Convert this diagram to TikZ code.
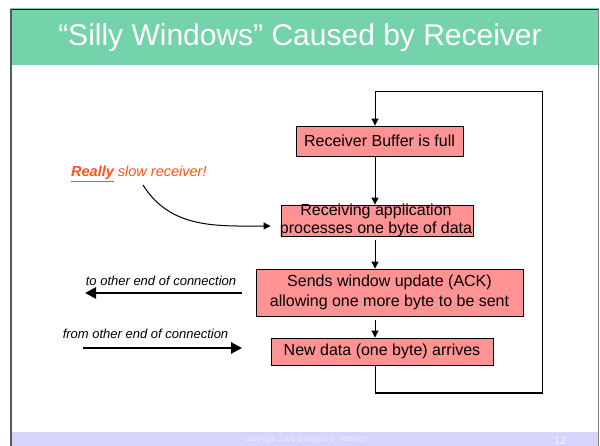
\documentclass[tikz,border=0pt]{standalone}
\usepackage{fontspec}
\setmainfont{Liberation Sans}
\usetikzlibrary{arrows.meta}
\definecolor{band}{HTML}{74D3AB}
\definecolor{boxfill}{HTML}{FF9292}
\definecolor{orng}{HTML}{FF5214}
\definecolor{foot}{HTML}{D4D4FD}
\definecolor{foottxt}{HTML}{ECECFF}
\tikzset{
  flowbox/.style={draw=black, line width=0.9pt, fill=boxfill, inner sep=0pt, align=center, font=\fontsize{16}{20}\selectfont},
  conn/.style={line width=1pt, -{Triangle[length=7pt,width=7pt]}},
  bigarrow/.style={line width=2.6pt, -{Triangle[length=11pt,width=11pt]}},
  note/.style={font=\fontsize{13}{15}\selectfont\itshape, inner sep=0pt}
}
\begin{document}
\begin{tikzpicture}[x=1pt,y=-1pt]
\useasboundingbox (0,0) rectangle (600,446);
% slide frame
\fill[band] (10,8) rectangle (599,65);
\fill[foot] (10,432) rectangle (599,446);
\draw[black, line width=1pt] (11,9.5) -- (598.5,9.5);
\draw[gray!70!black, line width=1.4pt] (11,9) -- (11,446);
\draw[gray, line width=1pt] (598.5,9) -- (598.5,446);
\node[text=white, font=\fontsize{30}{34}\selectfont, inner sep=0pt] (title) at (300,38) {“Silly Windows” Caused by Receiver};
\node[text=foottxt, font=\fontsize{8}{9}\selectfont, inner sep=0pt] (copy) at (305,439.5) {copyright 2005 Douglas S. Reeves};
\node[text=foottxt, font=\fontsize{11}{12}\selectfont\bfseries, inner sep=0pt] (pg) at (560,441) {12};
% boxes
\node[flowbox, minimum width=167pt, minimum height=30pt] (b1) at (379.5,141) {Receiver Buffer is full};
\node[flowbox, minimum width=192pt, minimum height=31pt] (b2) at (377,220.5) {};
\node[align=center, inner sep=0pt, font=\fontsize{16}{18}\selectfont] (b2t) at (376,220) {Receiving application\\processes one byte of data};
\node[flowbox, minimum width=267pt, minimum height=47pt] (b3) at (389.5,292.5) {Sends window update (ACK)\\allowing one more byte to be sent};
\node[flowbox, minimum width=222pt, minimum height=27pt] (b4) at (382,351.5) {New data (one byte) arrives};
% column and loop corners
\coordinate (xc) at (375,0);
\coordinate (lb) at (375,393);
\coordinate (rb) at (542.5,393);
\coordinate (rt) at (542.5,92);
\coordinate (lt) at (375,92);
% vertical flow
\draw[conn] (b1.south -| xc) -- (b2.north -| xc);
\draw[conn, shorten <=4pt] (b2.south -| xc) -- (b3.north -| xc);
\draw[conn, shorten <=4pt] (b3.south -| xc) -- (b4.north -| xc);
\draw[line width=1pt] (b4.south -| xc) -- (lb) -- (rb) -- (rt) -- (lt);
\draw[conn] (lt) -- (b1.north -| xc);
% slow receiver note
\node[text=orng, font=\fontsize{14.5}{16}\selectfont\itshape, inner sep=0pt, anchor=base west] (slow) at (71,177) {\underline{\bfseries Really} slow receiver!};
\coordinate (rs) at (143,185);
\draw[conn] (rs) to[out=-58,in=180] ([xshift=-10pt,yshift=-5.5pt]b2.west);
% connection notes
\node[note] (tl) at (161,281) {to other end of connection};
\coordinate (ta1) at (242,293);
\coordinate (ta2) at (85,293);
\draw[bigarrow] (ta1) -- (ta2);
\node[note] (fl) at (145.5,334) {from other end of connection};
\coordinate (fa1) at (83,348);
\coordinate (fa2) at (242,348);
\draw[bigarrow] (fa1) -- (fa2);
\end{tikzpicture}
\end{document}
